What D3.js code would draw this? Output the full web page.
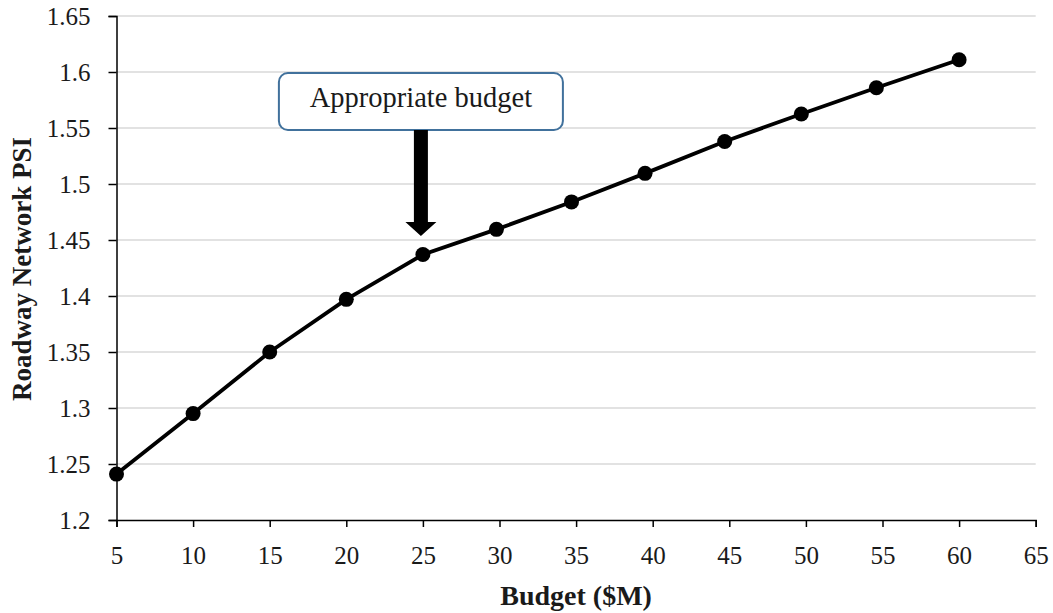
<!DOCTYPE html>
<html><head><meta charset="utf-8">
<script src="https://cdn.jsdelivr.net/npm/d3@7"></script>
<style>
html,body{margin:0;padding:0;background:#fff;}
svg text{font-family:"Liberation Serif","Times New Roman",serif;fill:#1a1a1a;}
</style></head>
<body>
<svg id="chart" width="1053" height="613"></svg>
<script>
const budget = [5, 10, 15, 20, 25, 29.8, 34.7, 39.5, 44.7, 49.7, 54.6, 60];
const psi = [1.241, 1.295, 1.35, 1.397, 1.437, 1.4595, 1.484, 1.5095, 1.538, 1.5625, 1.586, 1.611];
const xTicks = [5, 10, 15, 20, 25, 30, 35, 40, 45, 50, 55, 60, 65];
const yTicks = [1.2, 1.25, 1.3, 1.35, 1.4, 1.45, 1.5, 1.55, 1.6, 1.65];
const yTickLabels = ["1.2", "1.25", "1.3", "1.35", "1.4", "1.45", "1.5", "1.55", "1.6", "1.65"];
const xTitle = "Budget ($M)";
const yTitle = "Roadway Network PSI";
const annotationText = "Appropriate budget";
const annotationX = 25;

const svg = d3.select("#chart");
const L = 116.5, R = 1035.7, T = 16, B = 520;
const x = d3.scaleLinear().domain([5, 65]).range([L, R]);
const y = d3.scaleLinear().domain([1.2, 1.65]).range([B, T]);

// gridlines
svg.append("g").selectAll("line").data(yTicks.filter(d => d > 1.2)).join("line")
  .attr("x1", L).attr("x2", R)
  .attr("y1", d => y(d)).attr("y2", d => y(d))
  .attr("stroke", "#d9d9d9").attr("stroke-width", 1.5);

// y axis
const yAxis = d3.axisLeft(y).tickValues(yTicks).tickSize(8).tickPadding(18)
  .tickFormat((d, i) => yTickLabels[i]);
const gy = svg.append("g").attr("transform", `translate(${L},0)`).call(yAxis);
gy.attr("font-size", null).attr("font-family", null);
gy.select(".domain").attr("stroke", "#000").attr("stroke-width", 1.5);
gy.selectAll(".tick line").attr("stroke", "#000").attr("stroke-width", 1.5);
gy.selectAll(".tick text").style("font-size", "25px").style("font-family", "'Liberation Serif', serif")
  .style("fill", "#1a1a1a").attr("dy", "0.34em");

// x axis
const xAxis = d3.axisBottom(x).tickValues(xTicks).tickSize(7).tickPadding(12).tickFormat(d3.format("d"));
const gx = svg.append("g").attr("transform", `translate(0,${B})`).call(xAxis);
gx.attr("font-size", null).attr("font-family", null);
gx.select(".domain").attr("stroke", "#000").attr("stroke-width", 1.5);
gx.selectAll(".tick line").attr("stroke", "#000").attr("stroke-width", 1.5);
gx.selectAll(".tick text").style("font-size", "25px").style("font-family", "'Liberation Serif', serif")
  .style("fill", "#1a1a1a").attr("y", 44).attr("dy", 0);

// titles
svg.append("text").attr("x", (L + R) / 2).attr("y", 605).attr("text-anchor", "middle")
  .style("font-size", "28px").style("font-weight", "bold").text(xTitle);
svg.append("text").attr("transform", `translate(31,${(130 + 408) / 2}) rotate(-90)`)
  .attr("text-anchor", "middle").style("font-size", "27px").style("font-weight", "bold").text(yTitle);

// line
const pts = budget.map((b, i) => [b, psi[i]]);
svg.append("path").datum(pts)
  .attr("d", d3.line().x(d => x(d[0])).y(d => y(d[1])))
  .attr("fill", "none").attr("stroke", "#000").attr("stroke-width", 3.8).attr("stroke-linejoin", "round");
svg.append("g").selectAll("circle").data(pts).join("circle")
  .attr("cx", d => x(d[0])).attr("cy", d => y(d[1])).attr("r", 7.5).attr("fill", "#000");

// annotation
const ax = x(annotationX) - 2;
const boxW = 284, boxH = 57, boxTop = 73;
svg.append("rect").attr("x", ax - boxW / 2).attr("y", boxTop).attr("width", boxW).attr("height", boxH)
  .attr("rx", 9).attr("fill", "#fff").attr("stroke", "#41719c").attr("stroke-width", 2);
svg.append("text").attr("x", ax).attr("y", 107).attr("text-anchor", "middle")
  .style("font-size", "28.5px").text(annotationText);
const shaftTop = boxTop + boxH, headTop = 222, tip = 236;
svg.append("path")
  .attr("d", `M${ax - 7},${shaftTop} L${ax + 7},${shaftTop} L${ax + 7},${headTop} L${ax + 15.5},${headTop} L${ax},${tip} L${ax - 15.5},${headTop} L${ax - 7},${headTop} Z`)
  .attr("fill", "#000");
</script>
</body></html>
